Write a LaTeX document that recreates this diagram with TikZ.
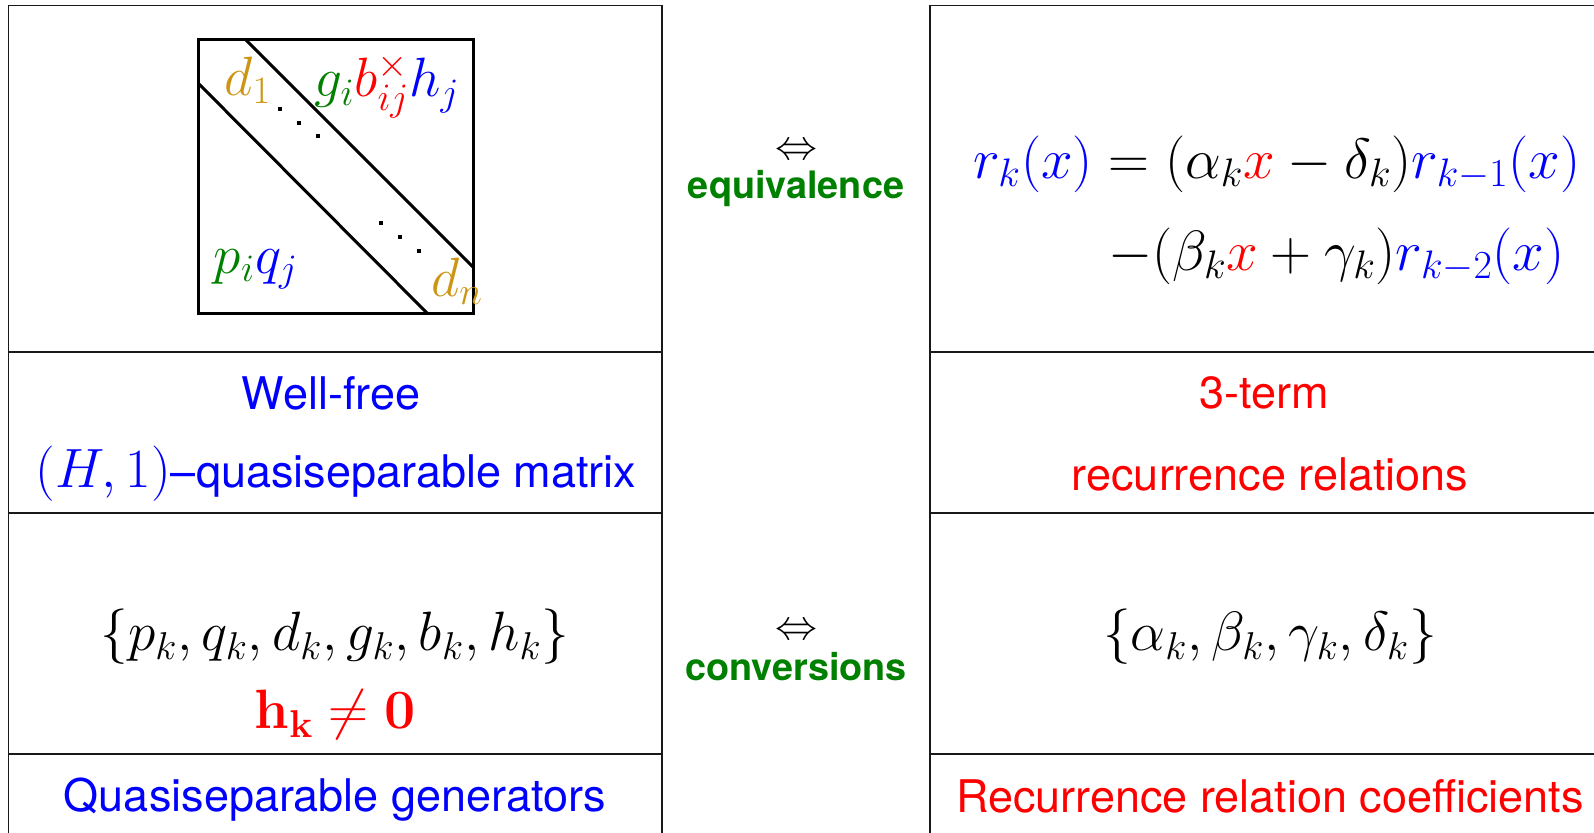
\RequirePackage{fix-cm}
\documentclass[tikz,border=0pt]{standalone}
\usepackage[no-math]{fontspec}
\newfontfamily\hv[Ligatures=TeX]{TeX Gyre Heros}
\definecolor{gold}{RGB}{204,150,20}
\definecolor{dgreen}{RGB}{0,128,0}
\newcommand{\mathsz}{\fontsize{27.7}{32}\selectfont}
\begin{document}
\begin{tikzpicture}[x=0.5pt,y=-0.5pt,
  tbl/.style={line width=0.85pt,black!90},
  mat/.style={line width=1.5pt},
  lab/.style={inner sep=0pt,font=\hv\fontsize{22.5}{27}\selectfont},
  mth/.style={inner sep=0pt,font=\mathsz},
  eqn/.style={inner sep=0pt,anchor=west,font=\fontsize{28.4}{32}\selectfont},
  mid/.style={inner sep=0pt,font=\hv\bfseries\fontsize{18.9}{22}\selectfont,text=dgreen},
  arr/.style={inner sep=0pt,font=\fontsize{21}{24}\selectfont}]
\useasboundingbox (0,0) rectangle (1594,832);
% left table
\draw[tbl] (8.5,850) -- (8.5,5.5) -- (662,5.5) -- (662,850);
\draw[tbl] (8.5,352) -- (662,352);
\draw[tbl] (8.5,513) -- (662,513);
\draw[tbl] (8.5,754) -- (662,754);
% right table
\draw[tbl] (1700,5.5) -- (930,5.5) -- (930,850);
\draw[tbl] (930,352) -- (1700,352);
\draw[tbl] (930,513) -- (1700,513);
\draw[tbl] (930,754) -- (1700,754);
% matrix
\draw[mat] (198,39) rectangle (473,313);
\draw[mat] (245,39) -- (473,267);
\draw[mat] (198,83) -- (427,313);
\foreach \p in {(280,109),(299,123),(318,136),(381,223),(400,237),(419,251)}
  \fill \p ++(-2.3,-2.3) rectangle ++(4.6,4.6);
\node[mth,text=gold] (d1) at (248,80) {$d_1$};
\node[mth] (gbh) at (387,86) {$\color{dgreen}g_i\color{red}b^{\times}_{ij}\color{blue}h_j$};
\node[mth] (pq) at (256,269) {$\color{dgreen}p_i\color{blue}q_j$};
\node[mth,text=gold] (dn) at (457,281) {$d_n$};
% left texts
\node[lab,text=blue] (wf) at (331,393) {Well-free};
\node[lab,text=blue] (hq) at (336,474) {{\mathsz$(H,1)$}\textendash quasiseparable matrix};
\node[mth] (gens) at (335,637) {$\{p_k,q_k,d_k,g_k,b_k,h_k\}$};
\node[mth,text=red] (hk) at (335,715) {$\mathbf{h_k\neq 0}$};
\node[lab,text=blue] (qg) at (335,800) {Quasiseparable generators};
% middle
\node[arr] (a1) at (796,152) {$\Leftrightarrow$};
\node[mid] (eq) at (796,189) {equivalence};
\node[arr] (a2) at (796,632) {$\Leftrightarrow$};
\node[mid] (cv) at (796,667) {conversions};
% right texts
\node[eqn] (r1) at (973,164) {$\color{blue}r_k(x)\color{black}=(\alpha_k\color{red}x\color{black}-\delta_k)\color{blue}r_{k-1}(x)$};
\node[eqn] (r2) at (1108,256) {$-(\beta_k\color{red}x\color{black}+\gamma_k)\color{blue}r_{k-2}(x)$};
\node[lab,text=red] (tt) at (1264,393) {3-term};
\node[lab,text=red] (rr) at (1270,474) {recurrence relations};
\node[mth] (coef) at (1270,637) {$\{\alpha_k,\beta_k,\gamma_k,\delta_k\}$};
\node[lab,text=red] (rc) at (1270,796) {Recurrence relation coefficients};
\end{tikzpicture}
\end{document}
